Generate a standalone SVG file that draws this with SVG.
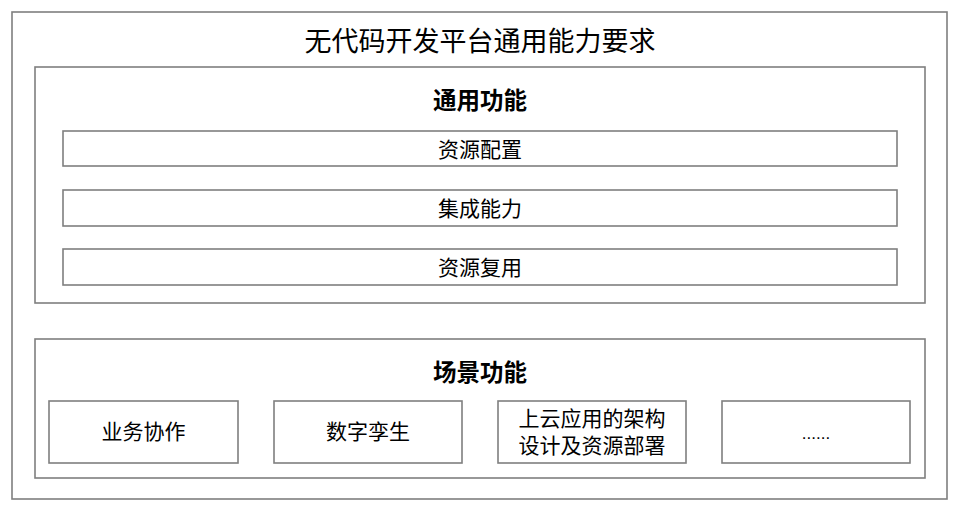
<svg xmlns="http://www.w3.org/2000/svg" width="963" height="513" viewBox="0 0 963 513">
<style>
rect{fill:#fff;stroke:#7f7f7f;stroke-width:1.6}
text{font-family:"Liberation Sans","Noto Sans CJK SC",sans-serif;fill:#000;text-anchor:middle;dominant-baseline:central}
.t{font-size:27px}
.h{font-size:23.5px;font-weight:bold}
.n{font-size:21px}
.d{font-size:17px}
</style>
<rect width="963" height="513" style="stroke:none"/>
<g id="root">
<rect x="12" y="12" width="935" height="487"/>
<text class="t" x="480" y="42">无代码开发平台通用能力要求</text>
</g>
<g id="general">
<rect x="35" y="67" width="890" height="236"/>
<text class="h" x="480" y="101">通用功能</text>
</g>
<g id="n1"><rect x="63" y="131" width="834" height="35"/><text class="n" x="480" y="149">资源配置</text></g>
<g id="n2"><rect x="63" y="190" width="834" height="36"/><text class="n" x="480" y="208">集成能力</text></g>
<g id="n3"><rect x="63" y="249" width="834" height="36"/><text class="n" x="480" y="267">资源复用</text></g>
<g id="scene">
<rect x="35" y="339" width="890" height="139"/>
<text class="h" x="480" y="373">场景功能</text>
</g>
<g id="s1"><rect x="49" y="401" width="189" height="62"/><text class="n" x="143.5" y="431">业务协作</text></g>
<g id="s2"><rect x="274" y="401" width="188" height="62"/><text class="n" x="368" y="431">数字孪生</text></g>
<g id="s3"><rect x="498" y="401" width="188" height="62"/><text class="n" x="592" y="418">上云应用的架构</text><text class="n" x="592" y="445">设计及资源部署</text></g>
<g id="s4"><rect x="722" y="401" width="188" height="62"/><text class="d" x="816" y="433">......</text></g>
<g id="connectors"></g>
</svg>
